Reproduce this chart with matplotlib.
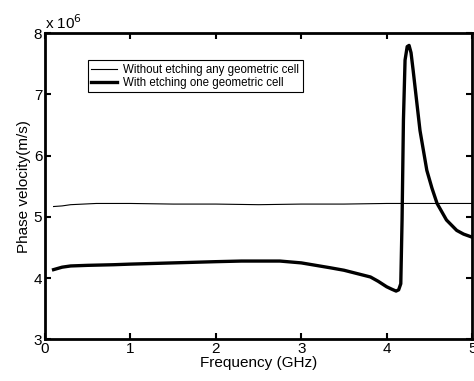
import matplotlib.pyplot as plt

plt.rcParams['font.family'] = ['Liberation Sans', 'DejaVu Sans']

# frequency (GHz) and phase velocity (x 10^6 m/s)
freq_plain = [0.1, 0.2, 0.3, 0.45, 0.6, 1.0, 1.5, 2.0, 2.5, 3.0, 3.5, 4.0, 4.5, 5.0]
vel_plain = [5.17, 5.18, 5.20, 5.21, 5.22, 5.22, 5.21, 5.21, 5.20, 5.21, 5.21, 5.22, 5.22, 5.22]

freq_etch = [0.1, 0.2, 0.3, 0.5, 0.8, 1.0, 1.5, 2.0, 2.3, 2.75, 3.0, 3.34, 3.5, 3.81,
             3.9, 4.0, 4.06, 4.11, 4.14, 4.165, 4.18, 4.196, 4.215, 4.24, 4.262, 4.285,
             4.31, 4.35, 4.39, 4.47, 4.53, 4.59, 4.70, 4.82, 4.90, 5.0]
vel_etch = [4.14, 4.18, 4.20, 4.21, 4.22, 4.23, 4.25, 4.27, 4.28, 4.28, 4.25, 4.17, 4.13, 4.02,
            3.95, 3.86, 3.82, 3.79, 3.81, 3.91, 4.95, 6.58, 7.56, 7.78, 7.80, 7.68,
            7.39, 6.90, 6.41, 5.76, 5.47, 5.22, 4.95, 4.78, 4.72, 4.67]

fig = plt.figure(figsize=(4.74, 3.81), dpi=100)
ax = fig.add_axes([0.095, 0.109, 0.901, 0.804])

ax.plot(freq_plain, vel_plain, color='k', lw=0.8, label='Without etching any geometric cell')
ax.plot(freq_etch, vel_etch, color='k', lw=2.4, label='With etching one geometric cell')

ax.set_xlim(0, 5)
ax.set_ylim(3, 8)
ax.set_xticks([0, 1, 2, 3, 4, 5])
ax.set_yticks([3, 4, 5, 6, 7, 8])
ax.tick_params(direction='in', length=4, width=1.5, labelsize=11, pad=2,
               top=True, right=True)
for s in ax.spines.values():
    s.set_linewidth(2)

ax.set_xlabel('Frequency (GHz)', fontsize=11, labelpad=0)
ax.set_ylabel('Phase velocity(m/s)', fontsize=11, labelpad=2)
ax.text(0.0, 1.005, 'x 10$^{6}$', transform=ax.transAxes, fontsize=11,
        ha='left', va='bottom')

leg = ax.legend(loc='upper left', bbox_to_anchor=(0.10, 0.912), fontsize=8.3,
                frameon=True, fancybox=False, edgecolor='k', framealpha=1,
                borderpad=0.3, labelspacing=0.1, handlelength=2.2, handletextpad=0.6,
                borderaxespad=0)
leg.get_frame().set_linewidth(0.8)

fig.savefig('out.png', dpi=100)
